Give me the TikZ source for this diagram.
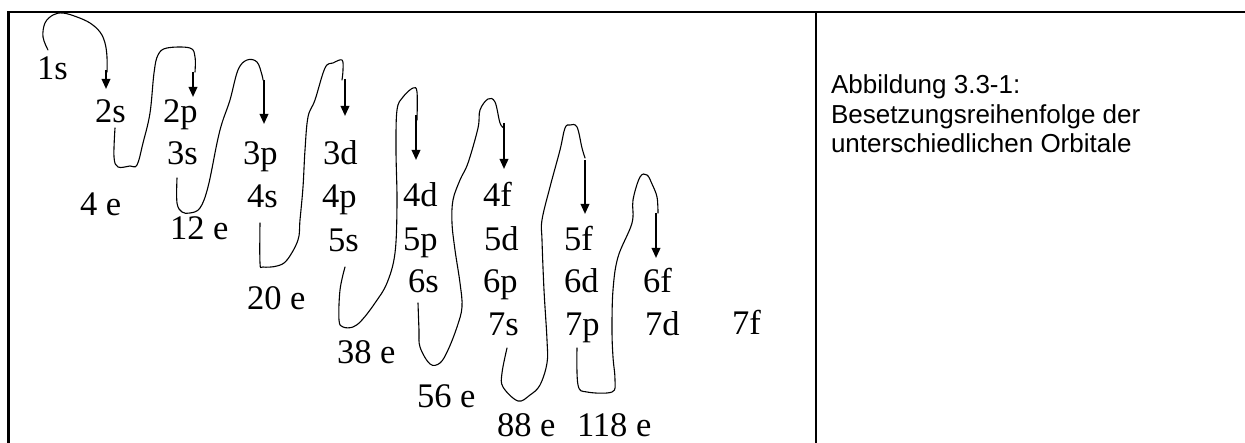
\documentclass[tikz,border=0pt]{standalone}
\usepackage{fontspec}
\setmainfont{Liberation Serif}
\newfontfamily\capfont{Liberation Sans}
\usetikzlibrary{arrows.meta}
\tikzset{
  orb/.style={anchor=base west, inner sep=0pt, outer sep=0pt, font=\fontsize{34.5}{40}\selectfont},
  hand/.style={line width=1.1pt, line join=round, line cap=round},
  down/.style={line width=1.9pt, -{Triangle[length=10pt,width=8.5pt]}},
  frame/.style={line width=2.2pt},
  captext/.style={anchor=base west, inner sep=0pt, outer sep=0pt,
     font=\capfont\fontsize{26}{29.5}\selectfont}
}
\begin{document}
\begin{tikzpicture}[x=1pt,y=-1pt]
\useasboundingbox (0,0) rectangle (1245,443);
% frame
\draw[frame] (8.5,443) -- (8.5,12) -- (1245,12);
\draw[frame] (816,12) -- (816,443);
% orbital labels
\node[orb] (n1s) at (37,80) {1s};
\node[orb] (n2s) at (95,123) {2s};
\node[orb] (n2p) at (163,123) {2p};
\node[orb] (n3s) at (167,165) {3s};
\node[orb] (n3p) at (243,165) {3p};
\node[orb] (n3d) at (323,165) {3d};
\node[orb] (n4s) at (247,208) {4s};
\node[orb] (n4p) at (322,208) {4p};
\node[orb] (n4d) at (403,207) {4d};
\node[orb] (n4f) at (483,207) {4f};
\node[orb] (n5s) at (328,252) {5s};
\node[orb] (n5p) at (403,251) {5p};
\node[orb] (n5d) at (484,251) {5d};
\node[orb] (n5f) at (564,251) {5f};
\node[orb] (n6s) at (408,293) {6s};
\node[orb] (n6p) at (483,293) {6p};
\node[orb] (n6d) at (564,293) {6d};
\node[orb] (n6f) at (643,293) {6f};
\node[orb] (n7s) at (488,336) {7s};
\node[orb] (n7p) at (565,336) {7p};
\node[orb] (n7d) at (645,336) {7d};
\node[orb] (n7f) at (732,335) {7f};
% electron counts
\node[orb] (e4) at (80,216) {4 e};
\node[orb] (e12) at (170,240) {12 e};
\node[orb] (e20) at (247,310) {20 e};
\node[orb] (e38) at (337,364) {38 e};
\node[orb] (e56) at (417,408) {56 e};
\node[orb] (e88) at (497,436) {88 e};
\node[orb] (e118) at (577,436) {118 e};
% hand-drawn curves
\draw[hand] plot[smooth, tension=0.6] coordinates {(48,50) (43,37) (45,23) (53,15) (63,13) (77,17) (90,23) (100,32) (105,43) (107,57) (107,72)};
\draw[hand] plot[smooth, tension=0.6] coordinates {(115,128) (114,157) (118,167) (130,166) (137,165) (143,143) (150,113) (154,73) (158,55) (167,48) (190,48) (195,57) (195,72)};
\draw[hand] plot[smooth, tension=0.6] coordinates {(177,178) (177,203) (182,212) (190,213) (200,208) (208,187) (217,143) (222,123) (230,100) (238,70) (247,60) (257,62) (262,75) (263,80)};
\draw[hand] plot[smooth, tension=0.6] coordinates {(260,223) (260,263) (263,267) (277,266) (287,260) (298,240) (300,220) (303,187) (305,150) (308,117) (315,100) (325,68) (333,63) (342,60) (343,70) (342,80)};
\draw[hand] plot[smooth, tension=0.6] coordinates {(345,267) (340,290) (339,320) (343,327) (353,327) (362,320) (375,303) (387,283) (395,253) (397,203) (396,150) (397,110) (403,97) (413,88) (417,92) (417,120)};
\draw[hand] plot[smooth, tension=0.6] coordinates {(418,303) (419,330) (420,347) (430,364) (440,363) (448,350) (457,327) (462,307) (460,283) (455,250) (452,223) (453,200) (460,180) (468,163) (478,128) (480,110) (488,99) (495,102) (500,123) (504,128)};
\draw[hand] plot[smooth, tension=0.6] coordinates {(507,348) (502,373) (503,387) (518,401) (530,395) (540,385) (547,363) (547,340) (544,290) (542,240) (542,220) (550,187) (560,150) (565,128) (570,125) (577,127) (582,148) (585,158)};
\draw[hand] plot[smooth, tension=0.6] coordinates {(577,348) (578,385) (587,392) (612,392) (615,380) (613,357) (612,330) (613,290) (618,257) (632,223) (633,200) (640,177) (647,175) (652,184) (657,197) (658,213)};
% arrows
\coordinate (a1s) at (106,70);  \coordinate (a1e) at (106,89);
\coordinate (a2s) at (193,72);  \coordinate (a2e) at (193,97);
\coordinate (a3s) at (264,80);  \coordinate (a3e) at (264,124);
\coordinate (a4s) at (345,79);  \coordinate (a4e) at (345,116);
\coordinate (a5s) at (416,115); \coordinate (a5e) at (416,160);
\coordinate (a6s) at (504,123); \coordinate (a6e) at (504,169);
\coordinate (a7s) at (585,160); \coordinate (a7e) at (585,214);
\coordinate (a8s) at (656,213); \coordinate (a8e) at (656,258);
\foreach \i in {1,...,8} { \draw[down] (a\i s) -- (a\i e); }
% caption
\node[captext] (cap1) at (831,94) {Abbildung 3.3-1:};
\node[captext] (cap2) at (831,123.5) {Besetzungsreihenfolge der};
\node[captext] (cap3) at (831,153) {unterschiedlichen Orbitale};
\end{tikzpicture}
\end{document}
